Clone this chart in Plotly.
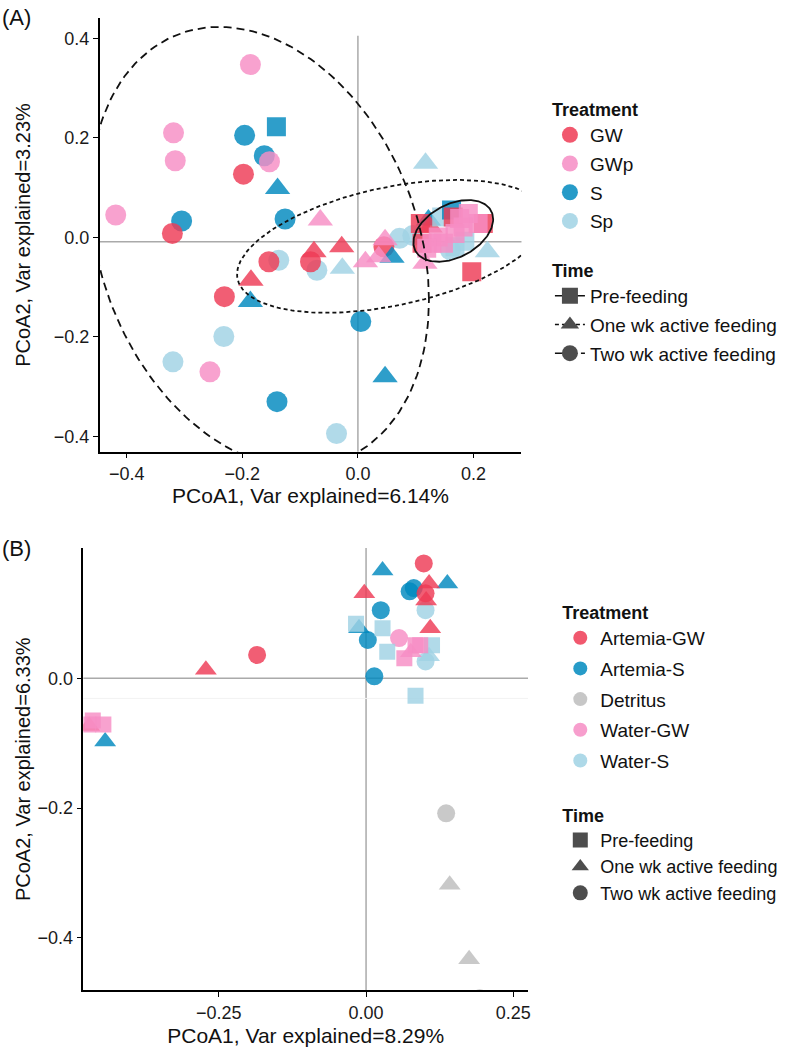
import numpy as np
import plotly.graph_objects as go

FONT = "Liberation Sans, Arial, sans-serif"

# ---------------- panel A ----------------
a_treatments = ["GW", "GWp", "S", "Sp"]
a_colors = ["#EE3B55", "#F68DC4", "#0089BE", "#A0D2E4"]

a_treatment = (["GW"] * 15 + ["GWp"] * 20 + ["S"] * 13 + ["Sp"] * 14)
a_time = (["two"] * 6 + ["one"] * 4 + ["pre"] * 5
          + ["two"] * 6 + ["one"] * 5 + ["pre"] * 9
          + ["two"] * 6 + ["one"] * 5 + ["pre"] * 2
          + ["two"] * 8 + ["one"] * 3 + ["pre"] * 3)
a_pc1 = [-0.198, -0.321, -0.154, -0.231, -0.082, 0.045,
         -0.076, -0.028, -0.185, 0.125,
         0.108, 0.165, 0.217, 0.111, 0.197,
         -0.186, -0.319, -0.316, -0.153, -0.419, -0.256,
         -0.065, 0.013, 0.036, 0.047, 0.116,
         0.191, 0.208, 0.182, 0.168, 0.139, 0.128, 0.148, 0.119, 0.176,
         -0.196, -0.162, -0.305, -0.126, 0.005, -0.140,
         -0.139, -0.186, 0.047, 0.059, 0.122,
         -0.141, 0.162,
         -0.137, -0.071, -0.232, -0.320, -0.037, 0.072, 0.095, 0.160,
         0.117, -0.027, 0.224,
         0.168, 0.185, 0.145]
a_pc2 = [0.127, 0.008, -0.049, -0.119, -0.049, -0.019,
         -0.029, -0.019, -0.086, 0.021,
         0.028, 0.041, 0.028, -0.012, -0.069,
         0.347, 0.210, 0.154, 0.152, 0.045, -0.270,
         0.035, -0.049, -0.039, -0.005, -0.052,
         0.048, 0.028, 0.021, 0.008, 0.001, -0.012, -0.012, -0.022, 0.038,
         0.205, 0.164, 0.033, 0.037, -0.169, -0.330,
         0.098, -0.129, -0.280, -0.040, 0.035,
         0.222, 0.055,
         -0.046, -0.066, -0.199, -0.250, -0.394, -0.002, 0.004, -0.025,
         0.149, -0.062, -0.029,
         -0.019, -0.008, 0.041]

# ellipses per time group (centre and covariance)
ell_time = ["pre", "one", "two"]
ell_cx = [0.165, 0.058, -0.170]
ell_cy = [0.013, -0.018, -0.020]
ell_sxx = [0.00476, 0.0713, 0.0858]
ell_syy = [0.00384, 0.0178, 0.1960]
ell_sxy = [0.00161, 0.0150, -0.0310]

# ---------------- panel B ----------------
b_treatments = ["Artemia-GW", "Artemia-S", "Detritus", "Water-GW", "Water-S"]
b_colors = ["#EE3B55", "#0089BE", "#BDBDBD", "#F68DC4", "#A0D2E4"]

b_treatment = (["Artemia-GW"] * 9 + ["Artemia-S"] * 9 + ["Detritus"] * 4
               + ["Water-GW"] * 8 + ["Water-S"] * 8)
b_time = (["two"] * 3 + ["one"] * 6
          + ["two"] * 5 + ["one"] * 4
          + ["two", "one", "one", "two"]
          + ["two"] + ["pre"] * 6 + ["one"]
          + ["two"] * 2 + ["pre"] * 5 + ["one"])
b_pc1 = [0.098, 0.101, -0.185,
         -0.003, 0.107, 0.102, 0.109, -0.272, -0.470,
         0.081, 0.074, 0.025, 0.003, 0.014,
         0.028, 0.138, -0.012, -0.443,
         0.136, 0.142, 0.175, 0.193,
         0.056,
         0.084, 0.092, 0.065, -0.464, -0.446, -0.472, 0.076,
         0.101,
         0.101, 0.084,
         -0.017, 0.028, 0.036, 0.112, 0.107,
         0.098]
b_pc2 = [0.177, 0.131, 0.036,
         0.131, 0.146, 0.120, 0.077, 0.013, -0.0735,
         0.139, 0.134, 0.105, 0.059, 0.003,
         0.166, 0.146, 0.077, -0.0975,
         -0.208, -0.318, -0.433, -0.493,
         0.062,
         0.051, 0.051, 0.031, -0.065, -0.071, -0.071, 0.040,
         0.026,
         0.105, -0.027,
         0.084, 0.077, 0.041, 0.051, 0.034,
         0.023]

time_labels = {"pre": "Pre-feeding", "one": "One wk active feeding",
               "two": "Two wk active feeding"}
symbols = {"pre": "square", "one": "triangle-up", "two": "circle"}
dashes = {"pre": "solid", "one": "4px,3px", "two": "8px,5px"}

fig = go.Figure()


def add_points(treat, time, pc1, pc2, order, colors, xa, ya, sizes):
    cmap = dict(zip(order[0], colors))
    for t in ["two", "one", "pre"]:
        for tr in order[1]:
            xs = [x for x, a, b in zip(pc1, treat, time) if a == tr and b == t]
            ys = [y for y, a, b in zip(pc2, treat, time) if a == tr and b == t]
            if not xs:
                continue
            fig.add_trace(go.Scatter(
                x=xs, y=ys, mode="markers", xaxis=xa, yaxis=ya, showlegend=False,
                marker=dict(symbol=symbols[t], size=sizes[t], color=cmap[tr],
                            opacity=0.82, line=dict(width=0)),
                hoverinfo="skip"))


add_points(a_treatment, a_time, a_pc1, a_pc2,
           (a_treatments, ["Sp", "S", "GW", "GWp"]), a_colors, "x", "y",
           {"two": 21, "one": 22, "pre": 19})
add_points(b_treatment, b_time, b_pc1, b_pc2,
           (b_treatments, ["Detritus", "Water-S", "Water-GW", "Artemia-S", "Artemia-GW"]),
           b_colors, "x2", "y2", {"two": 18, "one": 19, "pre": 16})

# confidence ellipses, panel A
theta = np.linspace(0, 2 * np.pi, 200)
for t, cx, cy, sxx, syy, sxy in zip(ell_time, ell_cx, ell_cy, ell_sxx, ell_syy, ell_sxy):
    L = np.linalg.cholesky(np.array([[sxx, sxy], [sxy, syy]]))
    pts = L @ np.vstack([np.cos(theta), np.sin(theta)])
    fig.add_trace(go.Scatter(
        x=cx + pts[0], y=cy + pts[1], mode="lines", xaxis="x", yaxis="y",
        showlegend=False, hoverinfo="skip",
        line=dict(color="#111111", width=1.8, dash=dashes[t])))

# legend entries
for tr, c in zip(a_treatments, a_colors):
    fig.add_trace(go.Scatter(x=[None], y=[None], mode="markers", name=tr,
                             legend="legend", legendgroup="a" + tr,
                             marker=dict(symbol="circle", size=16, color=c, opacity=0.85)))
for t in ["pre", "one", "two"]:
    fig.add_trace(go.Scatter(x=[None], y=[None], mode="lines+markers", name=time_labels[t],
                             legend="legend2", legendgroup="at" + t,
                             line=dict(color="#111111", width=1.5, dash=dashes[t]),
                             marker=dict(symbol=symbols[t], size=16, color="#4D4D4D")))
for tr, c in zip(b_treatments, b_colors):
    fig.add_trace(go.Scatter(x=[None], y=[None], mode="markers", name=tr,
                             legend="legend3", legendgroup="b" + tr,
                             marker=dict(symbol="circle", size=14, color=c, opacity=0.85)))
for t in ["pre", "one", "two"]:
    fig.add_trace(go.Scatter(x=[None], y=[None], mode="markers", name=time_labels[t],
                             legend="legend4", legendgroup="bt" + t,
                             marker=dict(symbol=symbols[t], size=15, color="#4D4D4D")))

axis_common = dict(showline=True, linecolor="black", linewidth=1.5, ticks="outside",
                   ticklen=5, tickcolor="black", tickwidth=1.2, showgrid=False,
                   zeroline=False, tickfont=dict(size=18, color="#1a1a1a"))

ref = dict(type="line", line=dict(color="#AAAAAA", width=1.5), layer="below")
fig.update_layout(
    width=800, height=1052, margin=dict(l=0, r=0, t=0, b=0),
    plot_bgcolor="white", paper_bgcolor="white",
    font=dict(family=FONT, color="#111111"),
    xaxis=dict(domain=[0.1249, 0.6543], anchor="y", range=[-0.447, 0.283],
               tickvals=[-0.4, -0.2, 0.0, 0.2], tickformat=".1f",
               title=dict(text="PCoA1, Var explained=6.14%", font=dict(size=21), standoff=2),
               **axis_common),
    yaxis=dict(domain=[0.5706, 0.9826], anchor="x", range=[-0.4305, 0.44],
               tickvals=[-0.4, -0.2, 0.0, 0.2, 0.4], tickformat=".1f",
               title=dict(text="PCoA2, Var explained=3.23%", font=dict(size=20), standoff=18),
               **axis_common),
    xaxis2=dict(domain=[0.1046, 0.6625], anchor="y2", range=[-0.48, 0.275],
                tickvals=[-0.25, 0.0, 0.25], tickformat=".2f",
                title=dict(text="PCoA1, Var explained=8.29%", font=dict(size=21), standoff=6),
                **axis_common),
    yaxis2=dict(domain=[0.0585, 0.4791], anchor="x2", range=[-0.481, 0.2008],
                tickvals=[-0.4, -0.2, 0.0], tickformat=".1f",
                title=dict(text="PCoA2, Var explained=6.33%", font=dict(size=20), standoff=1),
                **axis_common),
    shapes=[
        dict(ref, xref="x", yref="y domain", x0=0, x1=0, y0=0, y1=0.96),
        dict(ref, xref="x domain", yref="y", x0=0, x1=1, y0=-0.009, y1=-0.009),
        dict(ref, xref="x2", yref="y2 domain", x0=0, x1=0, y0=0, y1=1),
        dict(ref, xref="x2 domain", yref="y2", x0=0, x1=1, y0=0, y1=0),
        dict(type="line", xref="x2 domain", yref="y2", x0=0, x1=1, y0=-0.031, y1=-0.031,
             line=dict(color="#F2F2F2", width=1), layer="below"),
    ],
    legend=dict(x=0.69, y=0.912, xanchor="left", yanchor="top", bgcolor="rgba(0,0,0,0)",
                title=dict(text="<b>Treatment</b>", font=dict(size=18)),
                font=dict(size=19), traceorder="grouped", tracegroupgap=1),
    legend2=dict(x=0.69, y=0.759, xanchor="left", yanchor="top", bgcolor="rgba(0,0,0,0)",
                 title=dict(text="<b>Time</b>", font=dict(size=18)),
                 font=dict(size=19), traceorder="grouped", tracegroupgap=1),
    legend3=dict(x=0.703, y=0.434, xanchor="left", yanchor="top", bgcolor="rgba(0,0,0,0)",
                 title=dict(text="<b>Treatment</b>", font=dict(size=18)),
                 font=dict(size=19), traceorder="grouped", tracegroupgap=3),
    legend4=dict(x=0.703, y=0.241, xanchor="left", yanchor="top", bgcolor="rgba(0,0,0,0)",
                 title=dict(text="<b>Time</b>", font=dict(size=18)),
                 font=dict(size=18), traceorder="grouped", tracegroupgap=0),
    annotations=[
        dict(text="(A)", x=0, y=1 - 3 / 1052, xref="paper", yref="paper",
             xanchor="left", yanchor="top", showarrow=False, font=dict(size=22)),
        dict(text="(B)", x=0, y=1 - 534 / 1052, xref="paper", yref="paper",
             xanchor="left", yanchor="top", showarrow=False, font=dict(size=22)),
    ],
)

fig.write_html("out.html", config={"displayModeBar": False},
               post_script="document.body.style.margin = '0';")
